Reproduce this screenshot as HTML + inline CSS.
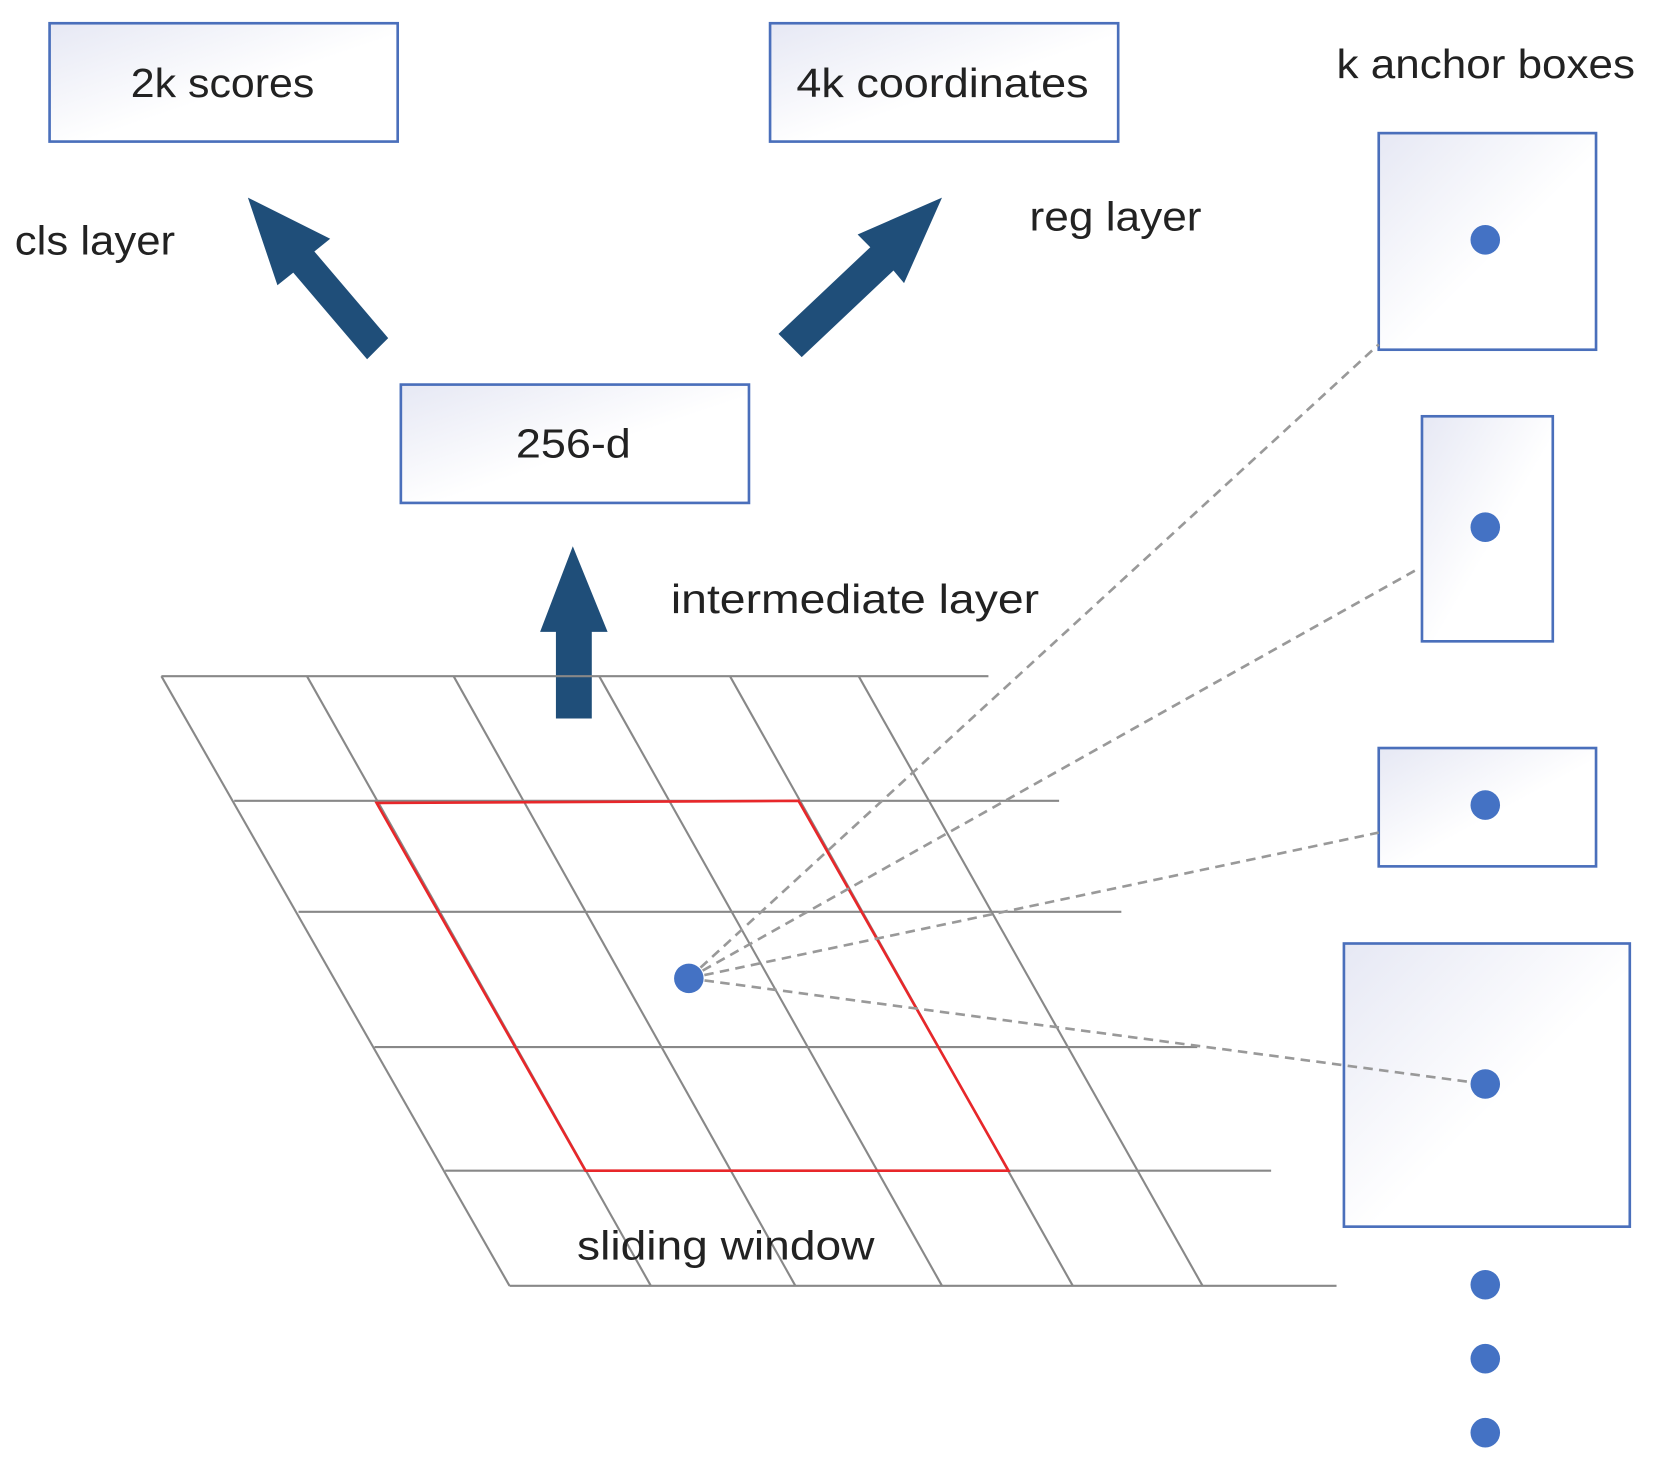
<!DOCTYPE html>
<html><head><meta charset="utf-8"><style>html,body{margin:0;padding:0;background:#fff}svg{display:block}</style></head><body>
<svg width="1653" height="1476" viewBox="0 0 1567 1397" preserveAspectRatio="none" xmlns="http://www.w3.org/2000/svg" font-family="'Liberation Sans', sans-serif" fill="#222">
<defs>
<linearGradient id="g" x1="0" y1="0" x2="1" y2="1"><stop offset="0" stop-color="#e6e8f4"/><stop offset="0.55" stop-color="#fff"/><stop offset="1" stop-color="#fff"/></linearGradient>
</defs>
<g stroke="#4a6fbb" stroke-width="2.5" fill="url(#g)">
<rect x="47" y="22" width="330" height="112"/>
<rect x="730" y="22" width="330" height="112"/>
<rect x="380" y="364" width="330" height="112"/>
<rect x="1307" y="126" width="206" height="205"/>
<rect x="1348" y="394" width="124" height="213"/>
<rect x="1307" y="708" width="206" height="112"/>
<rect x="1274" y="893" width="271" height="268"/>
</g>
<g font-size="39">
<text x="124" y="92" textLength="174" lengthAdjust="spacingAndGlyphs">2k scores</text>
<text x="755" y="92" textLength="277" lengthAdjust="spacingAndGlyphs">4k coordinates</text>
<text x="489" y="433" textLength="109" lengthAdjust="spacingAndGlyphs">256-d</text>
<text x="1267" y="74" textLength="283" lengthAdjust="spacingAndGlyphs">k anchor boxes</text>
<text x="14" y="241" textLength="152" lengthAdjust="spacingAndGlyphs">cls layer</text>
<text x="976" y="218" textLength="163" lengthAdjust="spacingAndGlyphs">reg layer</text>
<text x="636" y="580" textLength="349" lengthAdjust="spacingAndGlyphs">intermediate layer</text>
</g>
<g fill="#1f4e79">
<polygon points="235,187 313,226 298,238 368,320 348,340 278,258 263,270"/>
<polygon points="893,187 857,268 847,256 760,338 738,316 825,234 813,222"/>
<polygon points="543,517 576,598 561,598 561,680 527,680 527,598 512,598"/>
</g>
<g stroke="#888" stroke-width="2" fill="none">
<line x1="153" y1="640" x2="937" y2="640"/>
<line x1="222" y1="758" x2="1004" y2="758"/>
<line x1="283" y1="863" x2="1063" y2="863"/>
<line x1="355" y1="991" x2="1135" y2="991"/>
<line x1="422" y1="1108" x2="1205" y2="1108"/>
<line x1="483" y1="1217" x2="1267" y2="1217"/>
<line x1="153" y1="640" x2="483" y2="1217"/>
<line x1="291" y1="640" x2="617" y2="1217"/>
<line x1="430" y1="640" x2="754" y2="1217"/>
<line x1="568" y1="640" x2="893" y2="1217"/>
<line x1="692" y1="640" x2="1017" y2="1217"/>
<line x1="814" y1="640" x2="1140" y2="1217"/>
</g>
<polygon points="357,760 757,758 956,1108 555,1108" fill="none" stroke="#e8272a" stroke-width="2.5"/>
<text x="547" y="1192" font-size="39" textLength="282" lengthAdjust="spacingAndGlyphs">sliding window</text>
<g stroke="#999" stroke-width="2.5" stroke-dasharray="9,6" fill="none">
<line x1="653" y1="926" x2="1307" y2="326"/>
<line x1="653" y1="926" x2="1345" y2="538"/>
<line x1="653" y1="926" x2="1307" y2="788"/>
<line x1="653" y1="926" x2="1408" y2="1026"/>
</g>
<g fill="#4472c4">
<circle cx="653" cy="926" r="14"/>
<circle cx="1408" cy="227" r="14"/>
<circle cx="1408" cy="499" r="14"/>
<circle cx="1408" cy="762" r="14"/>
<circle cx="1408" cy="1026" r="14"/>
<circle cx="1408" cy="1216" r="14"/>
<circle cx="1408" cy="1286" r="14"/>
<circle cx="1408" cy="1356" r="14"/>
</g>
</svg>
</body></html>
